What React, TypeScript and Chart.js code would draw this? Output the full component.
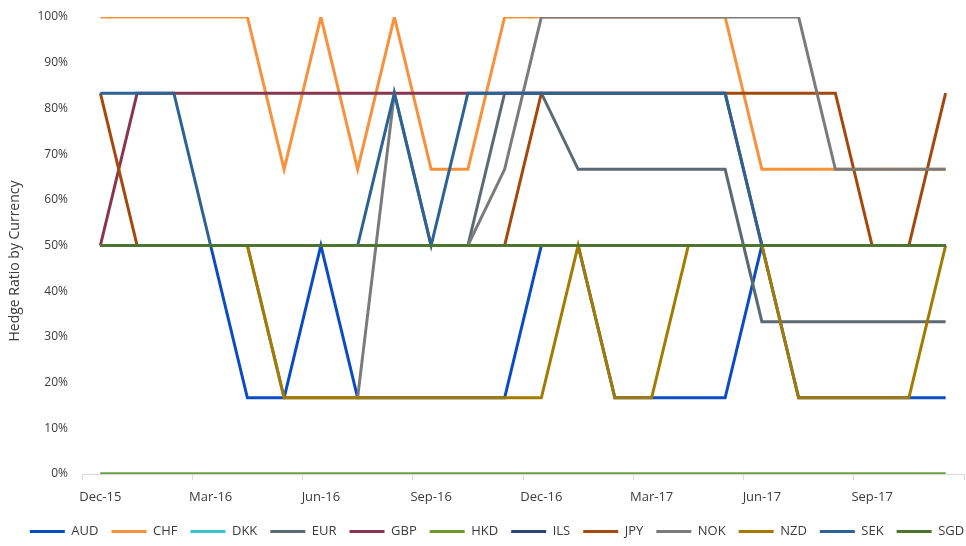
import React, { useEffect, useRef } from "react";
import { Chart, registerables } from "chart.js";

Chart.register(...registerables);

const months = [
  "Dec-15", "Jan-16", "Feb-16", "Mar-16", "Apr-16", "May-16", "Jun-16", "Jul-16",
  "Aug-16", "Sep-16", "Oct-16", "Nov-16", "Dec-16", "Jan-17", "Feb-17", "Mar-17",
  "Apr-17", "May-17", "Jun-17", "Jul-17", "Aug-17", "Sep-17", "Oct-17", "Nov-17",
];

const AUD = [50, 50, 50, 50, 16.67, 16.67, 50, 16.67, 16.67, 16.67, 16.67, 16.67, 50, 50, 16.67, 16.67, 16.67, 16.67, 50, 16.67, 16.67, 16.67, 16.67, 16.67];
const CHF = [100, 100, 100, 100, 100, 66.67, 100, 66.67, 100, 66.67, 66.67, 100, 100, 100, 100, 100, 100, 100, 66.67, 66.67, 66.67, 66.67, 66.67, 66.67];
const DKK = [0, 0, 0, 0, 0, 0, 0, 0, 0, 0, 0, 0, 0, 0, 0, 0, 0, 0, 0, 0, 0, 0, 0, 0];
const EUR = [50, 50, 50, 50, 50, 50, 50, 50, 50, 50, 50, 83.33, 83.33, 66.67, 66.67, 66.67, 66.67, 66.67, 33.33, 33.33, 33.33, 33.33, 33.33, 33.33];
const GBP = [50, 83.33, 83.33, 83.33, 83.33, 83.33, 83.33, 83.33, 83.33, 83.33, 83.33, 83.33, 83.33, 83.33, 83.33, 83.33, 83.33, 83.33, 50, 50, 50, 50, 50, 50];
const HKD = [0, 0, 0, 0, 0, 0, 0, 0, 0, 0, 0, 0, 0, 0, 0, 0, 0, 0, 0, 0, 0, 0, 0, 0];
const ILS = [50, 50, 50, 50, 50, 50, 50, 50, 50, 50, 50, 50, 50, 50, 50, 50, 50, 50, 50, 50, 50, 50, 50, 50];
const JPY = [83.33, 50, 50, 50, 50, 50, 50, 50, 50, 50, 50, 50, 83.33, 83.33, 83.33, 83.33, 83.33, 83.33, 83.33, 83.33, 83.33, 50, 50, 83.33];
const NOK = [50, 50, 50, 50, 50, 16.67, 16.67, 16.67, 83.33, 50, 50, 66.67, 100, 100, 100, 100, 100, 100, 100, 100, 66.67, 66.67, 66.67, 66.67];
const NZD = [50, 50, 50, 50, 50, 16.67, 16.67, 16.67, 16.67, 16.67, 16.67, 16.67, 16.67, 50, 16.67, 16.67, 50, 50, 50, 16.67, 16.67, 16.67, 16.67, 50];
const SEK = [83.33, 83.33, 83.33, 50, 50, 50, 50, 50, 83.33, 50, 83.33, 83.33, 83.33, 83.33, 83.33, 83.33, 83.33, 83.33, 50, 50, 50, 50, 50, 50];
const SGD = [50, 50, 50, 50, 50, 50, 50, 50, 50, 50, 50, 50, 50, 50, 50, 50, 50, 50, 50, 50, 50, 50, 50, 50];

const seriesNames = ["AUD", "CHF", "DKK", "EUR", "GBP", "HKD", "ILS", "JPY", "NOK", "NZD", "SEK", "SGD"];
const seriesValues = [AUD, CHF, DKK, EUR, GBP, HKD, ILS, JPY, NOK, NZD, SEK, SGD];
const seriesColors = [
  "#0a4cc4", "#f9913a", "#37c8cf", "#5c6a73", "#893550", "#6f9a2c",
  "#2c4475", "#a3490d", "#7b7b7b", "#a27b00", "#2c6394", "#4d7433",
];

const yTickValues = [0, 10, 20, 30, 40, 50, 60, 70, 80, 90, 100];
const yTitle = "Hedge Ratio by Currency";
const FONT = "'Open Sans', 'Noto Sans', sans-serif";
const TEXT = "#3b3b3b";

const yTitlePlugin = {
  id: "yTitleText",
  afterLayout(chart: any) {
    const lg = chart.legend;
    if (lg) {
      lg.left += 15;
      lg.right += 15;
    }
  },
  afterDraw(chart: any) {
    const ctx = chart.ctx;
    ctx.save();
    ctx.translate(15, 261);
    ctx.rotate(-Math.PI / 2);
    ctx.font = `14px ${FONT}`;
    ctx.fillStyle = TEXT;
    ctx.textAlign = "center";
    ctx.textBaseline = "middle";
    ctx.fillText(yTitle, 0, 0);
    ctx.restore();
  },
};

export default function App() {
  const ref = useRef<HTMLCanvasElement | null>(null);

  useEffect(() => {
    if (!ref.current) return;
    const chart = new Chart(ref.current, {
      type: "line",
      data: {
        labels: months,
        datasets: seriesNames.map((name, i) => ({
          label: name,
          data: seriesValues[i],
          borderColor: seriesColors[i],
          backgroundColor: seriesColors[i],
          borderWidth: 3,
          pointRadius: 0,
          pointHoverRadius: 0,
          tension: 0,
          fill: false,
          order: -i,
        })),
      },
      plugins: [yTitlePlugin],
      options: {
        animation: false,
        responsive: false,
        maintainAspectRatio: false,
        layout: { padding: { top: 17, right: 2, left: 0, bottom: 0 } },
        plugins: {
          tooltip: { enabled: false },
          legend: {
            position: "bottom",
            maxHeight: 34,
            labels: {
              boxWidth: 35,
              boxHeight: 3,
              padding: 13,
              color: TEXT,
              font: { family: FONT, size: 13 },
              generateLabels: (c: any) =>
                Chart.defaults.plugins.legend.labels
                  .generateLabels(c)
                  .map((l: any) => ({ ...l, lineWidth: 0 })),
              sort: (a: any, b: any) => a.datasetIndex - b.datasetIndex,
            },
          },
        },
        scales: {
          x: {
            type: "category",
            offset: true,
            border: { display: true, color: "#d9d9d9", width: 1 },
            grid: {
              offset: true,
              drawOnChartArea: false,
              drawTicks: true,
              tickLength: 6,
              color: (ctx: any) =>
                ctx.index === undefined || ctx.index % 3 === 0 ? "#d9d9d9" : "rgba(0,0,0,0)",
              tickColor: (ctx: any) =>
                ctx.index === undefined || ctx.index % 3 === 0 ? "#d9d9d9" : "rgba(0,0,0,0)",
            },
            afterFit: (scale: any) => {
              scale.height = 38;
            },
            ticks: {
              autoSkip: false,
              maxRotation: 0,
              padding: 9,
              color: TEXT,
              font: { family: FONT, size: 13 },
              callback: function (this: any, val: any, index: number) {
                return index % 3 === 0 ? this.getLabelForValue(val) : "";
              },
            },
          },
          y: {
            min: 0,
            max: 100,
            border: { display: false },
            grid: { display: false, drawTicks: false },
            afterFit: (scale: any) => {
              scale.width = 82;
              scale.paddingTop = 0;
              scale.paddingBottom = 0;
            },
            afterBuildTicks: (scale: any) => {
              scale.ticks = yTickValues.map((v) => ({ value: v }));
            },
            ticks: {
              padding: 14,
              color: TEXT,
              font: { family: FONT, size: 12 },
              callback: (v: any) => v + "%",
            },
          },
        },
      },
    });
    return () => chart.destroy();
  }, []);

  return (
    <div style={{ position: "fixed", left: 0, top: 0, width: 966, height: 546, background: "#fff" }}>
      <canvas ref={ref} width={966} height={546} style={{ display: "block", width: 966, height: 546 }} />
    </div>
  );
}
